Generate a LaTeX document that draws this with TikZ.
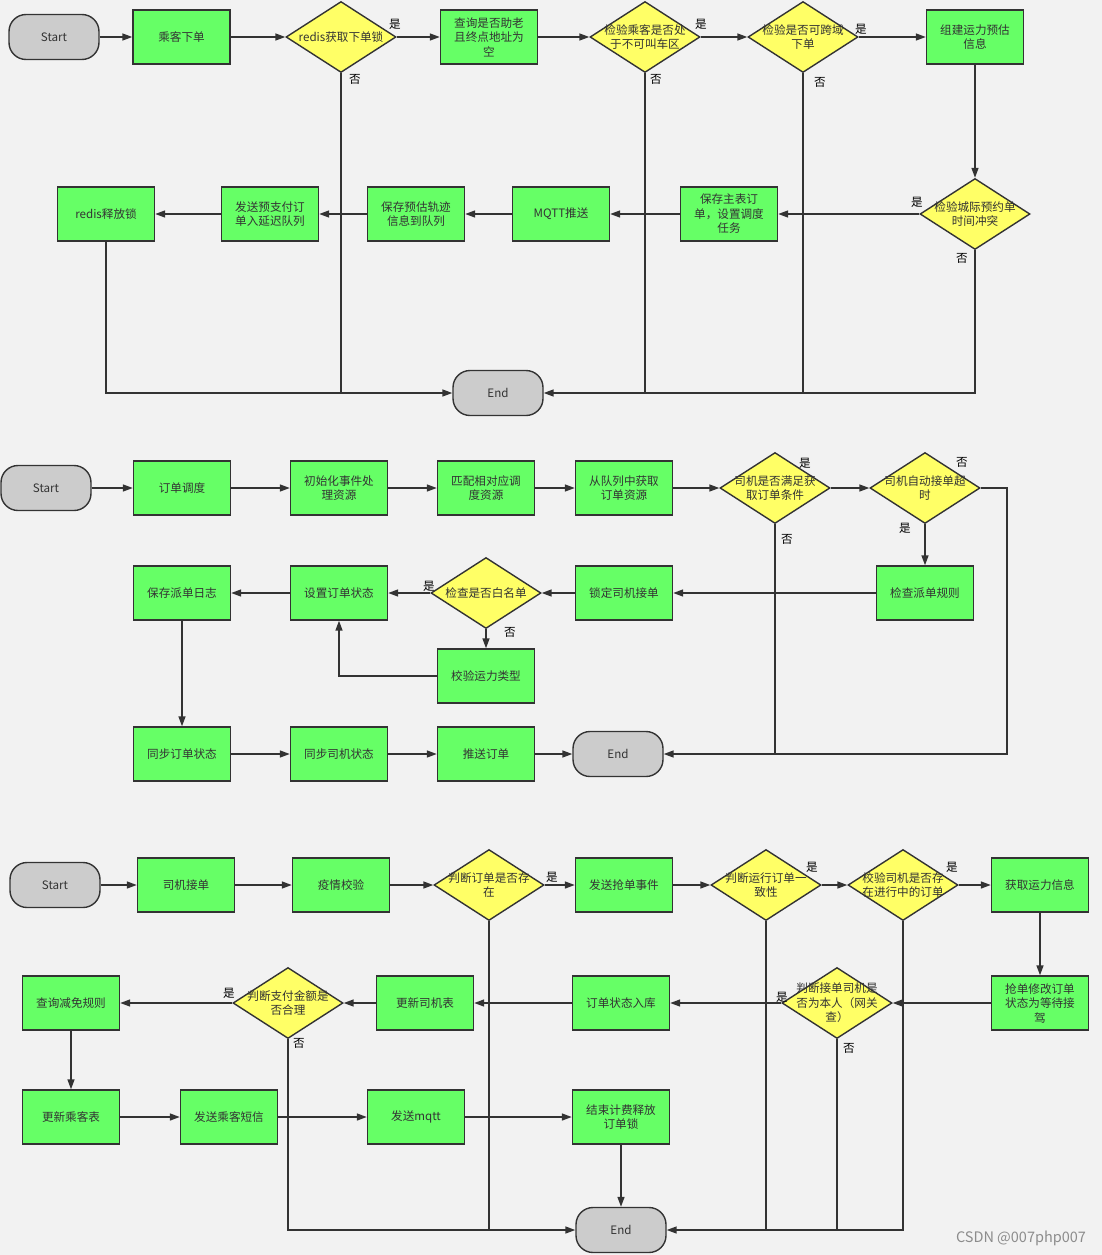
\documentclass[tikz,border=0pt]{standalone}
\usepackage{fontspec}
\setmainfont{Noto Sans CJK SC}
\usetikzlibrary{shapes.geometric,arrows.meta}
\definecolor{bgc}{HTML}{F2F2F2}
\definecolor{pg}{HTML}{66FF66}
\definecolor{yg}{HTML}{FFFF66}
\definecolor{tg}{HTML}{CCCCCC}
\definecolor{lc}{HTML}{333333}
\definecolor{tc}{HTML}{333333}
\definecolor{wm}{HTML}{8C8C8C}
\newcommand{\fs}{\fontsize{11.6}{14.5}\selectfont}
\tikzset{
  proc/.style={draw=lc, line width=1.4pt, fill=pg, minimum width=97, minimum height=54,
    inner sep=0, align=center, text=tc, font=\fs},
  term/.style={draw=lc, line width=1.4pt, fill=tg, rounded corners=17, minimum width=90,
    minimum height=45, inner sep=0, text=tc, font=\fs},
  dec/.style={diamond, draw=lc, line width=1.4pt, fill=yg, minimum width=110,
    minimum height=71, inner sep=0},
  dtext/.style={align=center, text=tc, font=\fs},
  flow/.style={draw=lc, line width=1.5pt, -{Triangle[length=10pt,width=7pt]}},
  link/.style={draw=lc, line width=1.5pt},
  yn/.style={text=black, font=\fs, inner sep=0}
}
\begin{document}
\begin{tikzpicture}[x=1pt,y=-1pt]
\path[use as bounding box, fill=bgc] (0,0) rectangle (1102,1255);

% ---------- passenger order flow ----------
\node[term] (s1) at (54,37) {Start};
\node[proc] (a1) at (181.5,37) {乘客下单};
\node[dec]  (d1) at (341,37) {};
\node[dtext] at (d1) {redis获取下单锁};
\node[proc] (a2) at (489,37) {查询是否助老\\且终点地址为\\空};
\node[dec]  (d2) at (645,37) {};
\node[dtext] at (d2) {检验乘客是否处\\于不可叫车区};
\node[dec]  (d3) at (803,37) {};
\node[dtext] at (d3) {检验是否可跨域\\下单};
\node[proc] (a3) at (975,37) {组建运力预估\\信息};
\node[dec]  (d4) at (975,214) {};
\node[dtext] at (d4) {检验城际预约单\\时间冲突};
\node[proc] (a4) at (729,214) {保存主表订\\单，设置调度\\任务};
\node[proc] (a5) at (561,214) {MQTT推送};
\node[proc] (a6) at (416,214) {保存预估轨迹\\信息到队列};
\node[proc] (a7) at (270,214) {发送预支付订\\单入延迟队列};
\node[proc] (a8) at (106,214) {redis释放锁};
\node[term] (e1) at (498,393) {End};

\draw[flow] (s1) -- (a1);
\draw[flow] (a1) -- (d1);
\draw[flow] (d1) -- (a2);
\draw[flow] (a2) -- (d2);
\draw[flow] (d2) -- (d3);
\draw[flow] (d3) -- (a3);
\draw[flow] (a3) -- (d4);
\draw[flow] (d4) -- (a4);
\draw[flow] (a4) -- (a5);
\draw[flow] (a5) -- (a6);
\draw[flow] (a6) -- (a7);
\draw[flow] (a7) -- (a8);
\draw[flow] (a8.south) |- (e1.west);
\draw[link] (d1.south) -- (d1.south |- e1.west);
\draw[link] (d2.south) -- (d2.south |- e1.east);
\draw[link] (d3.south) -- (d3.south |- e1.east);
\draw[flow] (d4.south) |- (e1.east);

\node[yn] at (395,24) {是};
\node[yn] at (355,79) {否};
\node[yn] at (701,24) {是};
\node[yn] at (656,79) {否};
\node[yn] at (861,29) {是};
\node[yn] at (820,82) {否};
\node[yn] at (917,202) {是};
\node[yn] at (962,258) {否};

% ---------- dispatch flow ----------
\node[term] (s2) at (46,488) {Start};
\node[proc] (b1) at (182,488) {订单调度};
\node[proc] (b2) at (339,488) {初始化事件处\\理资源};
\node[proc] (b3) at (486,488) {匹配相对应调\\度资源};
\node[proc] (b4) at (624,488) {从队列中获取\\订单资源};
\node[dec]  (g1) at (775,488) {};
\node[dtext] at (g1) {司机是否满足获\\取订单条件};
\node[dec]  (g2) at (925,488) {};
\node[dtext] at (g2) {司机自动接单超\\时};
\node[proc] (b5) at (925,593) {检查派单规则};
\node[proc] (b6) at (624,593) {锁定司机接单};
\node[dec]  (g3) at (486,593) {};
\node[dtext] at (g3) {检查是否白名单};
\node[proc] (b7) at (339,593) {设置订单状态};
\node[proc] (b8) at (182,593) {保存派单日志};
\node[proc] (b9) at (486,676) {校验运力类型};
\node[proc] (b10) at (182,754) {同步订单状态};
\node[proc] (b11) at (339,754) {同步司机状态};
\node[proc] (b12) at (486,754) {推送订单};
\node[term] (e2) at (618,754) {End};
\coordinate (r2) at (1007,488);

\draw[flow] (s2) -- (b1);
\draw[flow] (b1) -- (b2);
\draw[flow] (b2) -- (b3);
\draw[flow] (b3) -- (b4);
\draw[flow] (b4) -- (g1);
\draw[flow] (g1) -- (g2);
\draw[flow] (g2.east) -- (r2) |- (e2.east);
\draw[link] (g1.south) -- (g1.south |- e2.east);
\draw[flow] (g2) -- (b5);
\draw[flow] (b5) -- (b6);
\draw[flow] (b6) -- (g3);
\draw[flow] (g3) -- (b7);
\draw[flow] (g3) -- (b9);
\draw[flow] (b9.west) -| (b7.south);
\draw[flow] (b7) -- (b8);
\draw[flow] (b8) -- (b10);
\draw[flow] (b10) -- (b11);
\draw[flow] (b11) -- (b12);
\draw[flow] (b12) -- (e2);

\node[yn] at (805,463) {是};
\node[yn] at (787,539) {否};
\node[yn] at (962,462) {否};
\node[yn] at (905,528) {是};
\node[yn] at (429,586) {是};
\node[yn] at (510,632) {否};

% ---------- driver grab flow ----------
\node[term] (s3) at (55,885) {Start};
\node[proc] (c1) at (186,885) {司机接单};
\node[proc] (c2) at (341,885) {疫情校验};
\node[dec]  (h1) at (489,885) {};
\node[dtext] at (h1) {判断订单是否存\\在};
\node[proc] (c3) at (624,885) {发送抢单事件};
\node[dec]  (h2) at (766,885) {};
\node[dtext] at (h2) {判断运行订单一\\致性};
\node[dec]  (h3) at (903,885) {};
\node[dtext] at (h3) {校验司机是否存\\在进行中的订单};
\node[proc] (c4) at (1040,885) {获取运力信息};
\node[proc] (c5) at (1040,1003) {抢单修改订单\\状态为等待接\\驾};
\node[dec]  (h4) at (837,1003) {};
\node[dtext] at (h4) {判断接单司机是\\否为本人（网关\\查）};
\node[proc] (c6) at (621,1003) {订单状态入库};
\node[proc] (c7) at (425,1003) {更新司机表};
\node[dec]  (h5) at (288,1003) {};
\node[dtext] at (h5) {判断支付金额是\\否合理};
\node[proc] (c8) at (71,1003) {查询减免规则};
\node[proc] (c9) at (71,1117) {更新乘客表};
\node[proc] (c10) at (229,1117) {发送乘客短信};
\node[proc] (c11) at (416,1117) {发送mqtt};
\node[proc] (c12) at (621,1117) {结束计费释放\\订单锁};
\node[term] (e3) at (621,1230) {End};

\draw[flow] (s3) -- (c1);
\draw[flow] (c1) -- (c2);
\draw[flow] (c2) -- (h1);
\draw[flow] (h1) -- (c3);
\draw[flow] (c3) -- (h2);
\draw[flow] (h2) -- (h3);
\draw[flow] (h3) -- (c4);
\draw[flow] (c4) -- (c5);
\draw[flow] (c5) -- (h4);
\draw[flow] (h4) -- (c6);
\draw[flow] (c6) -- (c7);
\draw[flow] (c7) -- (h5);
\draw[flow] (h5) -- (c8);
\draw[flow] (c8) -- (c9);
\draw[flow] (c9) -- (c10);
\draw[flow] (c10) -- (c11);
\draw[flow] (c11) -- (c12);
\draw[flow] (c12) -- (e3);
\draw[flow] (h5.south) |- (e3.west);
\draw[link] (h1.south) -- (h1.south |- e3.west);
\draw[link] (h2.south) -- (h2.south |- e3.east);
\draw[link] (h4.south) -- (h4.south |- e3.east);
\draw[flow] (h3.south) |- (e3.east);

\node[yn] at (552,877) {是};
\node[yn] at (812,867) {是};
\node[yn] at (952,867) {是};
\node[yn] at (782,997) {是};
\node[yn] at (229,993) {是};
\node[yn] at (299,1043) {否};
\node[yn] at (849,1048) {否};

\node[text=wm, font=\fontsize{14.5}{16}\selectfont] at (1021,1238) {CSDN @007php007};
\end{tikzpicture}
\end{document}
